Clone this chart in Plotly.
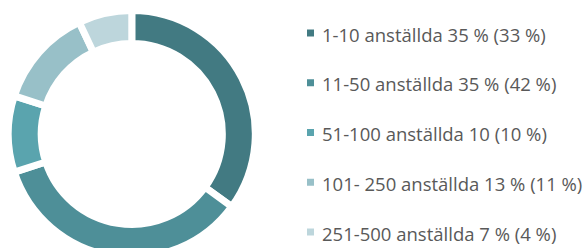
import plotly.graph_objects as go

labels = ["1-10 anställda", "11-50 anställda", "51-100 anställda", "101- 250 anställda", "251-500 anställda"]
values = [35, 35, 10, 13, 7]
legend_text = ["1-10 anställda 35 % (33 %)", "11-50 anställda 35 % (42 %)", "51-100 anställda 10 (10 %)",
               "101- 250 anställda 13 % (11 %)", "251-500 anställda 7 % (4 %)"]
colors = ["#427a82", "#4e8f98", "#5aa4ae", "#98c0c8", "#bdd6dc"]

W, H = 588, 268
cx, cy, R = 131.8, 134.0, 123.5

fig = go.Figure(go.Pie(
    labels=labels, values=values, sort=False, direction="clockwise", rotation=0,
    hole=0.733, textinfo="none", showlegend=False,
    marker=dict(colors=colors, line=dict(color="white", width=7)),
    domain=dict(x=[(cx - R) / W, (cx + R) / W], y=[1 - (cy + R) / H, 1 - (cy - R) / H]),
))

y0, dy = 33.0, 49.75
shapes, annotations = [], []
for i, (t, c) in enumerate(zip(legend_text, colors)):
    yc = y0 + dy * i
    shapes.append(dict(type="rect", xref="paper", yref="paper",
                       x0=307 / W, x1=314 / W, y0=1 - (yc + 3.5) / H, y1=1 - (yc - 3.5) / H,
                       fillcolor=c, line=dict(width=0)))
    annotations.append(dict(text=t, xref="paper", yref="paper", x=320 / W, y=1 - (yc + 1) / H,
                            xanchor="left", yanchor="middle", showarrow=False,
                            font=dict(family="Open Sans", size=18.5, color="#595959")))

fig.update_layout(width=W, height=H, margin=dict(l=0, r=0, t=0, b=0),
                  paper_bgcolor="white", plot_bgcolor="white",
                  shapes=shapes, annotations=annotations)

fig.write_html("out.html", config={"displayModeBar": False},
               post_script="document.body.style.overflow='hidden';document.body.style.margin='0';")
